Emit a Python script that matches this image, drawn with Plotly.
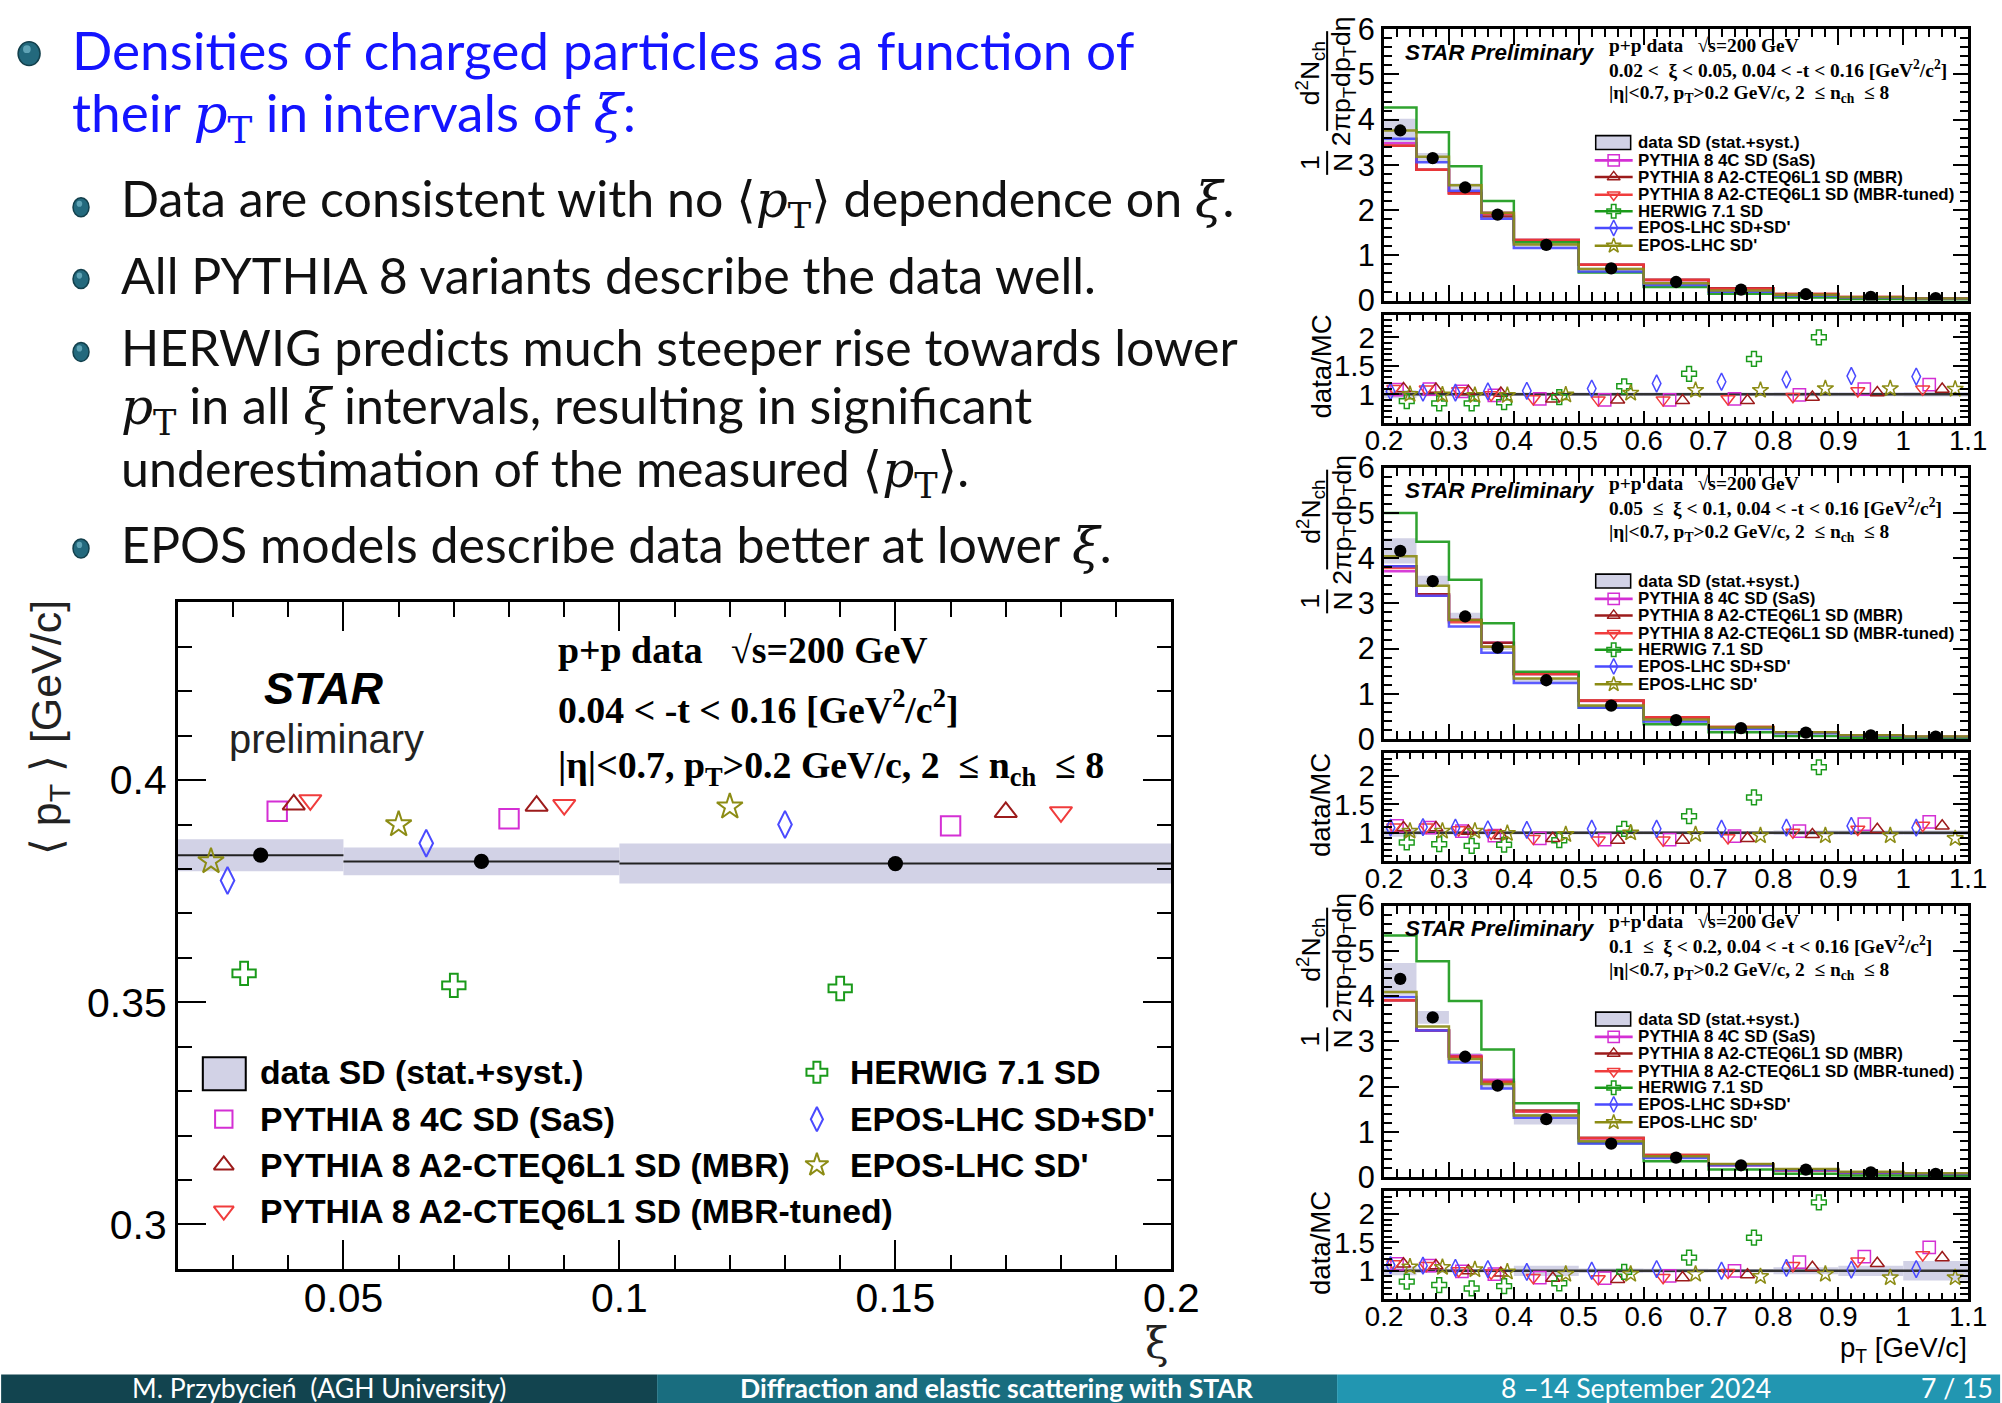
import plotly.graph_objects as go

W, H = 2002, 1403

# ---------------- main <pT> vs xi panel ----------------
xi_bin_center = [0.035, 0.075, 0.15]
xi_bin_halfwidth = [0.015, 0.025, 0.05]
meanpt_data = [0.3831, 0.3817, 0.3812]
meanpt_syst = [0.0036, 0.0031, 0.0045]

xi_sas = [0.038, 0.080, 0.160]
meanpt_sas = [0.3930, 0.3913, 0.3897]
xi_mbr = [0.041, 0.085, 0.170]
meanpt_mbr = [0.3945, 0.3942, 0.3928]
xi_mbrt = [0.044, 0.090, 0.180]
meanpt_mbrt = [0.3955, 0.3944, 0.3928]
xi_herwig = [0.032, 0.070, 0.140]
meanpt_herwig = [0.3565, 0.3538, 0.3531]
xi_epos = [0.029, 0.065, 0.130]
meanpt_epos = [0.3774, 0.3858, 0.3900]
xi_eposp = [0.026, 0.060, 0.120]
meanpt_eposp = [0.3817, 0.3900, 0.3940]

main_xtick_vals = [0.05, 0.1, 0.15, 0.2]
main_xtick_text = ["0.05", "0.1", "0.15", "0.2"]
main_ytick_vals = [0.3, 0.35, 0.4]
main_ytick_text = ["0.3", "0.35", "0.4"]

# ---------------- pT spectra (three xi intervals) ----------------
pt_edges = [0.2, 0.25, 0.3, 0.35, 0.4, 0.5, 0.6, 0.7, 0.8, 0.9, 1.0, 1.1]
pt_centers = [0.225, 0.275, 0.325, 0.375, 0.45, 0.55, 0.65, 0.75, 0.85, 0.95, 1.05]
pt_tick_vals = [0.2, 0.3, 0.4, 0.5, 0.6, 0.7, 0.8, 0.9, 1.0, 1.1]
pt_tick_text = ["0.2", "0.3", "0.4", "0.5", "0.6", "0.7", "0.8", "0.9", "1", "1.1"]

xi_interval_labels = ["0.02 &lt;  \u03be &lt; 0.05", "0.05  \u2264  \u03be &lt; 0.1", "0.1  \u2264  \u03be &lt; 0.2"]

data1 = [3.76, 3.15, 2.50, 1.90, 1.23, 0.71, 0.41, 0.24, 0.14, 0.082, 0.052]
syst1 = [0.26, 0.11, 0.09, 0.05, 0.04, 0.02, 0.012, 0.007, 0.005, 0.003, 0.002]
sas1 = [3.48, 2.89, 2.38, 1.94, 1.34, 0.79, 0.455, 0.26, 0.141, 0.075, 0.044]
mbr1 = [3.42, 2.89, 2.38, 1.86, 1.34, 0.79, 0.46, 0.27, 0.147, 0.080, 0.048]
mbrt1 = [3.42, 2.89, 2.36, 1.92, 1.34, 0.79, 0.455, 0.26, 0.146, 0.077, 0.048]
her1 = [4.27, 3.72, 2.97, 2.20, 1.29, 0.62, 0.30, 0.148, 0.070, 0.031, 0.016]
epos1 = [3.58, 3.06, 2.43, 1.81, 1.16, 0.645, 0.345, 0.197, 0.111, 0.062, 0.040]
eposp1 = [3.76, 3.18, 2.55, 1.94, 1.24, 0.70, 0.38, 0.224, 0.127, 0.075, 0.048]
r_sas1 = [1.08, 1.09, 1.05, 0.98, 0.92, 0.90, 0.90, 0.92, 0.99, 1.09, 1.17]
r_mbr1 = [1.10, 1.09, 1.05, 1.02, 0.92, 0.90, 0.89, 0.89, 0.95, 1.03, 1.09]
r_mbrt1 = [1.10, 1.09, 1.06, 0.99, 0.92, 0.90, 0.90, 0.92, 0.96, 1.06, 1.09]
r_her1 = [0.88, 0.84, 0.84, 0.86, 0.95, 1.14, 1.36, 1.62, 2.00, None, None]
r_epos1 = [1.05, 1.03, 1.03, 1.05, 1.06, 1.10, 1.19, 1.22, 1.26, 1.32, 1.31]
r_eposp1 = [1.00, 0.99, 0.98, 0.98, 0.99, 1.02, 1.07, 1.07, 1.10, 1.10, 1.09]
rband1 = [0.07, 0.035, 0.035, 0.03, 0.03, 0.03, 0.03, 0.03, 0.035, 0.035, 0.04]

data2 = [4.16, 3.49, 2.71, 2.02, 1.30, 0.74, 0.42, 0.24, 0.142, 0.082, 0.052]
syst2 = [0.28, 0.12, 0.08, 0.05, 0.04, 0.02, 0.012, 0.007, 0.005, 0.003, 0.002]
sas2 = [3.71, 3.20, 2.63, 2.13, 1.44, 0.84, 0.477, 0.255, 0.138, 0.071, 0.044]
mbr2 = [3.82, 3.20, 2.63, 2.13, 1.44, 0.85, 0.483, 0.267, 0.146, 0.077, 0.046]
mbrt2 = [3.78, 3.17, 2.58, 2.04, 1.44, 0.85, 0.483, 0.264, 0.141, 0.077, 0.046]
her2 = [5.00, 4.36, 3.52, 2.56, 1.49, 0.69, 0.326, 0.148, 0.066, 0.030, 0.015]
epos2 = [3.82, 3.17, 2.49, 1.91, 1.24, 0.69, 0.39, 0.224, 0.130, 0.073, 0.048]
eposp2 = [4.04, 3.39, 2.63, 2.04, 1.34, 0.74, 0.433, 0.253, 0.149, 0.086, 0.058]
r_sas2 = [1.12, 1.09, 1.03, 0.95, 0.90, 0.88, 0.88, 0.94, 1.03, 1.15, 1.19]
r_mbr2 = [1.09, 1.09, 1.03, 0.95, 0.90, 0.87, 0.87, 0.90, 0.97, 1.06, 1.12]
r_mbrt2 = [1.10, 1.10, 1.05, 0.99, 0.90, 0.87, 0.87, 0.91, 1.01, 1.06, 1.13]
r_her2 = [0.83, 0.80, 0.77, 0.79, 0.87, 1.07, 1.29, 1.62, 2.15, None, None]
r_epos2 = [1.09, 1.10, 1.09, 1.06, 1.05, 1.07, 1.07, 1.07, 1.09, 1.12, 1.09]
r_eposp2 = [1.03, 1.03, 1.03, 0.99, 0.97, 1.00, 0.97, 0.95, 0.95, 0.95, 0.90]
rband2 = [0.07, 0.035, 0.03, 0.03, 0.03, 0.03, 0.03, 0.03, 0.04, 0.04, 0.04]

data3 = [4.38, 3.53, 2.66, 2.02, 1.28, 0.74, 0.43, 0.26, 0.165, 0.105, 0.072]
syst3 = [0.35, 0.14, 0.08, 0.06, 0.12, 0.03, 0.015, 0.008, 0.01, 0.009, 0.012]
sas3 = [3.91, 3.24, 2.69, 2.15, 1.45, 0.85, 0.47, 0.26, 0.143, 0.084, 0.051]
mbr3 = [3.91, 3.24, 2.66, 2.10, 1.47, 0.87, 0.49, 0.28, 0.156, 0.093, 0.059]
mbrt3 = [3.91, 3.24, 2.66, 2.10, 1.45, 0.86, 0.49, 0.268, 0.151, 0.090, 0.056]
her3 = [5.34, 4.77, 3.89, 2.82, 1.63, 0.755, 0.35, 0.165, 0.075, 0.035, 0.018]
epos3 = [3.98, 3.24, 2.53, 1.96, 1.31, 0.74, 0.42, 0.26, 0.157, 0.103, 0.070]
eposp3 = [4.09, 3.33, 2.61, 2.06, 1.36, 0.79, 0.46, 0.29, 0.176, 0.119, 0.082]
r_sas3 = [1.12, 1.09, 0.99, 0.94, 0.88, 0.87, 0.91, 1.00, 1.15, 1.25, 1.41]
r_mbr3 = [1.12, 1.09, 1.00, 0.96, 0.87, 0.85, 0.88, 0.93, 1.06, 1.13, 1.23]
r_mbrt3 = [1.12, 1.09, 1.00, 0.96, 0.88, 0.86, 0.88, 0.97, 1.09, 1.17, 1.28]
r_her3 = [0.81, 0.75, 0.69, 0.73, 0.78, 0.98, 1.23, 1.58, 2.20, None, None]
r_epos3 = [1.10, 1.09, 1.05, 1.03, 0.98, 1.00, 1.03, 1.00, 1.05, 1.02, 1.03]
r_eposp3 = [1.07, 1.06, 1.02, 0.98, 0.94, 0.94, 0.94, 0.90, 0.94, 0.88, 0.88]
rband3 = [0.08, 0.04, 0.03, 0.03, 0.09, 0.04, 0.035, 0.03, 0.06, 0.09, 0.17]

model_names = ["PYTHIA 8 4C SD (SaS)", "PYTHIA 8 A2-CTEQ6L1 SD (MBR)",
               "PYTHIA 8 A2-CTEQ6L1 SD (MBR-tuned)", "HERWIG 7.1 SD",
               "EPOS-LHC SD+SD'", "EPOS-LHC SD'"]

# ---------------- styles ----------------
model_colors = ["#d42fd4", "#9c1b1b", "#f03c3c", "#1a9a1a", "#4a4aff", "#8c8c14"]
model_symbols = ["square-open", "triangle-up-open", "triangle-down-open",
                 "cross-open", "diamond-tall-open", "star-open"]
ratio_offsets = [0.4, 0.6, 0.3, 0.7, 0.2, 0.8]
BAND = "#d2d2e6"
SANS = "Liberation Sans"
SERIF = "Liberation Serif"
TXT = "Lato"

# the page is photographed slightly inset/scaled; place things in target-pixel space
OX, OY, S = 17.9, 13.3, 0.978
Z = 1.0 / S

fig = go.Figure()
annotations = []
shapes = []


def px(x):
    return (x - OX) / S / W


def py(y):
    return 1 - (y - OY) / S / H


def text(s, x, y, size, family=SANS, color="black", xanchor="left",
         yanchor="middle", angle=0):
    annotations.append(dict(text=s, x=px(x), y=py(y), xref="paper", yref="paper",
                            showarrow=False, xanchor=xanchor, yanchor=yanchor,
                            font=dict(size=size * Z, family=family, color=color),
                            textangle=angle, borderpad=0))


def pline(x0, y0, x1, y1, color="black", width=2):
    shapes.append(dict(type="line", xref="paper", yref="paper", x0=px(x0), y0=py(y0),
                       x1=px(x1), y1=py(y1), line=dict(color=color, width=width * Z)))


def prect(x0, y0, x1, y1, fill, lc=None, lw=0):
    shapes.append(dict(type="rect", xref="paper", yref="paper", x0=px(x0), y0=py(y1),
                       x1=px(x1), y1=py(y0), fillcolor=fill,
                       line=dict(color=lc if lc else fill, width=lw * Z), layer="above"))


def pmarker(x, y, symbol, color, size, lw=2):
    fig.add_trace(go.Scatter(x=[px(x)], y=[py(y)], mode="markers", xaxis="x8", yaxis="y8",
                             marker=dict(symbol=symbol, size=size * Z, color=color,
                                         line=dict(color=color, width=lw)),
                             hoverinfo="skip"))


def axstyle(fs=30, **kw):
    d = dict(showline=True, linecolor="black", linewidth=3, mirror="ticks",
             ticks="inside", tickcolor="black", showgrid=False, zeroline=False,
             tickfont=dict(family=SANS, size=fs * Z, color="black"))
    d.update(kw)
    return d


# ================= main panel =================
fig.add_trace(go.Bar(x=xi_bin_center, width=[2 * w for w in xi_bin_halfwidth],
                     base=[v - s for v, s in zip(meanpt_data, meanpt_syst)],
                     y=[2 * s for s in meanpt_syst], marker=dict(color=BAND, line=dict(width=0)),
                     xaxis="x", yaxis="y", hoverinfo="skip"))
fig.add_trace(go.Scatter(x=xi_bin_center, y=meanpt_data, mode="markers",
                         marker=dict(symbol="circle", size=15 * Z, color="black"),
                         error_x=dict(type="data", array=xi_bin_halfwidth, width=0,
                                      thickness=2, color="#222222"),
                         xaxis="x", yaxis="y"))
main_model_x = [xi_sas, xi_mbr, xi_mbrt, xi_herwig, xi_epos, xi_eposp]
main_model_y = [meanpt_sas, meanpt_mbr, meanpt_mbrt, meanpt_herwig, meanpt_epos, meanpt_eposp]
for k in range(6):
    fig.add_trace(go.Scatter(x=main_model_x[k], y=main_model_y[k], mode="markers",
                             marker=dict(symbol=model_symbols[k], size=19 * Z, color=model_colors[k],
                                         line=dict(color=model_colors[k], width=2)),
                             xaxis="x", yaxis="y"))

text("<b><i>STAR</i></b>", 323, 686, 44, xanchor="center")
text("preliminary", 326, 737, 39, xanchor="center", color="#222222")
text("<b>p+p data   \u221as=200 GeV</b>", 557, 648, 37, family=SERIF)
text("<b>0.04 &lt; -t &lt; 0.16 [GeV<sup>2</sup>/c<sup>2</sup>]</b>", 557, 705, 37, family=SERIF)
text("<b>|\u03b7|&lt;0.7, p<sub>T</sub>&gt;0.2 GeV/c, 2  \u2264 n<sub>ch</sub>  \u2264 8</b>",
     557, 766, 37, family=SERIF)
text("\u27e8 p<sub>T</sub> \u27e9 [GeV/c]", 48, 726, 42, xanchor="center", angle=-90, color="#222222")
text("\u03be", 1158, 1342, 42, xanchor="center", family="DejaVu Serif", color="#222222")

prect(202, 1056, 245, 1089, BAND, "black", 2)
pmarker(223.5, 1072, "circle", "black", 15)
text("<b>data SD (stat.+syst.)</b>", 258, 1071, 33)
leg_pos = [(223, 1118), (223, 1164), (223, 1210), (817, 1071), (817, 1118), (817, 1164)]
text_x = [258, 258, 258, 849, 849, 849]
for k in range(6):
    pmarker(leg_pos[k][0], leg_pos[k][1], model_symbols[k], model_colors[k], 17)
    text("<b>" + model_names[k] + "</b>", text_x[k], leg_pos[k][1], 33)

# ================= right panels =================
RX0, RX1 = 1385, 1970
hist_tops = [25.5, 465.0, 904.0]
HIST_H = 272.0
ratio_tops = [311.5, 751.0, 1190.0]
RATIO_H = 108.5

panel_data = [data1, data2, data3]
panel_syst = [syst1, syst2, syst3]
panel_models = [[sas1, mbr1, mbrt1, her1, epos1, eposp1],
                [sas2, mbr2, mbrt2, her2, epos2, eposp2],
                [sas3, mbr3, mbrt3, her3, epos3, eposp3]]
panel_ratios = [[r_sas1, r_mbr1, r_mbrt1, r_her1, r_epos1, r_eposp1],
                [r_sas2, r_mbr2, r_mbrt2, r_her2, r_epos2, r_eposp2],
                [r_sas3, r_mbr3, r_mbrt3, r_her3, r_epos3, r_eposp3]]
panel_bands = [rband1, rband2, rband3]
bin_widths = [pt_edges[i + 1] - pt_edges[i] for i in range(len(pt_centers))]

layout_axes = {}
for p in range(3):
    hx, rx = 2 + 2 * p, 3 + 2 * p
    hxa, hya, rxa, rya = "x%d" % hx, "y%d" % hx, "x%d" % rx, "y%d" % rx
    fig.add_trace(go.Bar(x=pt_centers, width=bin_widths,
                         base=[d - s for d, s in zip(panel_data[p], panel_syst[p])],
                         y=[2 * s for s in panel_syst[p]],
                         marker=dict(color=BAND, line=dict(width=0)),
                         xaxis=hxa, yaxis=hya, hoverinfo="skip"))
    for k in range(6):
        vals = panel_models[p][k]
        fig.add_trace(go.Scatter(x=pt_edges, y=vals + [vals[-1]], mode="lines",
                                 line=dict(shape="hv", color=model_colors[k], width=2.5),
                                 opacity=0.9, xaxis=hxa, yaxis=hya))
    fig.add_trace(go.Scatter(x=pt_centers, y=panel_data[p], mode="markers",
                             marker=dict(symbol="circle", size=12 * Z, color="black"),
                             xaxis=hxa, yaxis=hya))
    fig.add_trace(go.Bar(x=pt_centers, width=bin_widths,
                         base=[1 - b for b in panel_bands[p]],
                         y=[2 * b for b in panel_bands[p]],
                         marker=dict(color=BAND, line=dict(width=0)),
                         xaxis=rxa, yaxis=rya, hoverinfo="skip"))
    fig.add_trace(go.Scatter(x=[pt_edges[0], pt_edges[-1]], y=[1, 1], mode="lines",
                             line=dict(color="#333333", width=2.5), xaxis=rxa, yaxis=rya))
    for k in range(6):
        xs = [pt_edges[i] + ratio_offsets[k] * bin_widths[i] for i in range(len(pt_centers))]
        fig.add_trace(go.Scatter(x=xs, y=panel_ratios[p][k], mode="markers",
                                 marker=dict(symbol=model_symbols[k], size=12 * Z,
                                             color=model_colors[k],
                                             line=dict(color=model_colors[k], width=1.5)),
                                 xaxis=rxa, yaxis=rya))

    ht = hist_tops[p]
    rt = ratio_tops[p]
    layout_axes["xaxis%d" % hx] = axstyle(
        domain=[px(RX0), px(RX1)], range=[0.2, 1.1], anchor=hya, showticklabels=False,
        tickvals=pt_tick_vals, ticklen=15 * Z, tickwidth=2,
        minor=dict(ticks="inside", ticklen=8 * Z, tickwidth=1.5, tickcolor="black",
                   dtick=0.02, tick0=0.0, showgrid=False))
    layout_axes["yaxis%d" % hx] = axstyle(
        domain=[py(ht + HIST_H), py(ht)], range=[0, 6], anchor=hxa, dtick=1, tick0=0,
        ticklen=15 * Z, tickwidth=2,
        minor=dict(ticks="inside", ticklen=8 * Z, tickwidth=1.5, tickcolor="black",
                   dtick=0.2, tick0=0, showgrid=False))
    layout_axes["xaxis%d" % rx] = axstyle(
        fs=27, domain=[px(RX0), px(RX1)], range=[0.2, 1.1], anchor=rya,
        tickvals=pt_tick_vals, ticktext=pt_tick_text, ticklen=12 * Z, tickwidth=2,
        ticklabelstandoff=-9,
        minor=dict(ticks="inside", ticklen=6 * Z, tickwidth=1.5, tickcolor="black",
                   dtick=0.02, tick0=0.0, showgrid=False))
    layout_axes["yaxis%d" % rx] = axstyle(
        fs=29, domain=[py(rt + RATIO_H), py(rt)], range=[0.5, 2.4], anchor=rxa,
        tickvals=[1, 1.5, 2], ticktext=["1", "1.5", "2"], ticklen=15 * Z, tickwidth=2,
        minor=dict(ticks="inside", ticklen=8 * Z, tickwidth=1.5, tickcolor="black",
                   dtick=0.1, tick0=0, showgrid=False))

    text("<b><i>STAR Preliminary</i></b>", 1405, ht + 23, 22)
    text("<b>p+p data   \u221as=200 GeV</b>", 1609, ht + 16, 19, family=SERIF)
    text("<b>" + xi_interval_labels[p] + ", 0.04 &lt; -t &lt; 0.16 [GeV<sup>2</sup>/c<sup>2</sup>]</b>",
         1609, ht + 40, 19, family=SERIF)
    text("<b>|\u03b7|&lt;0.7, p<sub>T</sub>&gt;0.2 GeV/c, 2  \u2264 n<sub>ch</sub>  \u2264 8</b>",
         1609, ht + 65, 19, family=SERIF)
    rows = [113.7, 131.5, 148.2, 166.0, 182.5, 199.2, 217.1]
    prect(1597, ht + rows[0] - 7, 1632, ht + rows[0] + 7, BAND, "black", 1.5)
    pmarker(1614.5, ht + rows[0], "circle", "black", 10)
    text("<b>data SD (stat.+syst.)</b>", 1638, ht + rows[0], 16.5)
    for k in range(6):
        yy = ht + rows[k + 1]
        pline(1596, yy, 1634, yy, model_colors[k], 2.5)
        pmarker(1615, yy, model_symbols[k], model_colors[k], 11, 1.5)
        text("<b>" + model_names[k] + "</b>", 1638, yy, 16.5)
    text("d<sup>2</sup>N<sub>ch</sub>", 1311, ht + 44, 26, xanchor="center", angle=-90)
    text("2\u03c0p<sub>T</sub>dp<sub>T</sub>d\u03b7", 1344, ht + 52, 26, xanchor="center", angle=-90)
    pline(1328, ht + 2, 1328, ht + 102, "black", 2)
    text("1", 1311, ht + 134, 26, xanchor="center", angle=-90)
    text("N", 1344, ht + 134, 26, xanchor="center", angle=-90)
    pline(1328, ht + 122, 1328, ht + 146, "black", 2)
    text("data/MC", 1322, rt + 52, 27, xanchor="center", angle=-90)

text("p<sub>T</sub> [GeV/c]", 1970, 1349, 27, xanchor="right")

# ================= slide text =================
PT = "<span style=\"font-family:'DejaVu Serif'\"><i>p</i><sub>T</sub></span>"
XI = "<span style=\"font-family:'DejaVu Serif'\"><i>\u03be</i></span>"
LA = "<span style=\"font-family:'DejaVu Serif'\">\u27e8</span>"
RA = "<span style=\"font-family:'DejaVu Serif'\">\u27e9</span>"
BLUE = "#1414ff"
DARK = "#111111"
FT = 52
FS = 49
text("Densities of charged particles as a function of", 70, 46, FT, family=TXT, color=BLUE)
text("their " + PT + " in intervals of " + XI + ":", 70, 113, FT, family=TXT, color=BLUE)
text("Data are consistent with no " + LA + PT + RA + " dependence on " + XI + ".", 119, 199, FS, family=TXT, color=DARK)
text("All PYTHIA 8 variants describe the data well.", 119, 272, FS, family=TXT, color=DARK)
text("HERWIG predicts much steeper rise towards lower", 119, 344, FS, family=TXT, color=DARK)
text(PT + " in all " + XI + " intervals, resulting in significant", 119, 406, FS, family=TXT, color=DARK)
text("underestimation of the measured " + LA + PT + RA + ".", 119, 469, FS, family=TXT, color=DARK)
text("EPOS models describe data better at lower " + XI + ".", 119, 542, FS, family=TXT, color=DARK)


def ball(cx, cy, rx, ry):
    shapes.append(dict(type="circle", xref="paper", yref="paper",
                       x0=px(cx - rx), x1=px(cx + rx), y0=py(cy + ry), y1=py(cy - ry),
                       fillcolor="#23697d", line=dict(color="#123f4b", width=1.5)))
    shapes.append(dict(type="circle", xref="paper", yref="paper",
                       x0=px(cx - rx * 0.55), x1=px(cx + rx * 0.15), y0=py(cy - ry * 0.05),
                       y1=py(cy - ry * 0.7), fillcolor="#5fa3b5", line=dict(width=0)))


ball(28, 50, 11, 12)
for yb in [204, 276, 349, 546]:
    ball(80, yb, 8, 9.5)

# footer
FY0, FY1 = 1374, 1403
prect(0, FY0, 657, FY1, "#12444f")
prect(657, FY0, 1338, FY1, "#196d7f")
prect(1338, FY0, 2002, FY1, "#2296b1")
FC = 1387
text("M. Przybycie\u0144  (AGH University)", 318, FC, 26, family=TXT, color="white", xanchor="center")
text("<b>Diffraction and elastic scattering with STAR</b>", 997, FC, 26, family=TXT,
     color="white", xanchor="center")
text("8 \u201314 September 2024", 1637, FC, 26, family=TXT, color="white", xanchor="center")
text("7 / 15", 1959, FC, 26, family=TXT, color="white", xanchor="center")

fig.update_layout(
    width=W, height=H, margin=dict(l=0, r=0, t=0, b=0),
    paper_bgcolor="white", plot_bgcolor="rgba(0,0,0,0)",
    showlegend=False, barmode="overlay",
    xaxis=axstyle(fs=40, domain=[px(177), px(1172)], range=[0.02, 0.2], anchor="y",
                  tickvals=main_xtick_vals, ticktext=main_xtick_text, ticklen=28 * Z, tickwidth=2,
                  ticklabelstandoff=-9,
                  minor=dict(ticks="inside", ticklen=14 * Z, tickwidth=2, tickcolor="black",
                             dtick=0.01, tick0=0, showgrid=False)),
    yaxis=axstyle(fs=40, domain=[py(1268), py(600)], range=[0.29, 0.44], anchor="x",
                  tickvals=main_ytick_vals, ticktext=main_ytick_text, ticklen=28 * Z, tickwidth=2,
                  minor=dict(ticks="inside", ticklen=14 * Z, tickwidth=2, tickcolor="black",
                             dtick=0.01, tick0=0, showgrid=False)),
    xaxis8=dict(domain=[0, 1], range=[0, 1], visible=False, anchor="y8", fixedrange=True),
    yaxis8=dict(domain=[0, 1], range=[0, 1], visible=False, anchor="x8", fixedrange=True),
    annotations=annotations, shapes=shapes,
)
fig.update_layout(**layout_axes)

fig.write_html("out.html")
